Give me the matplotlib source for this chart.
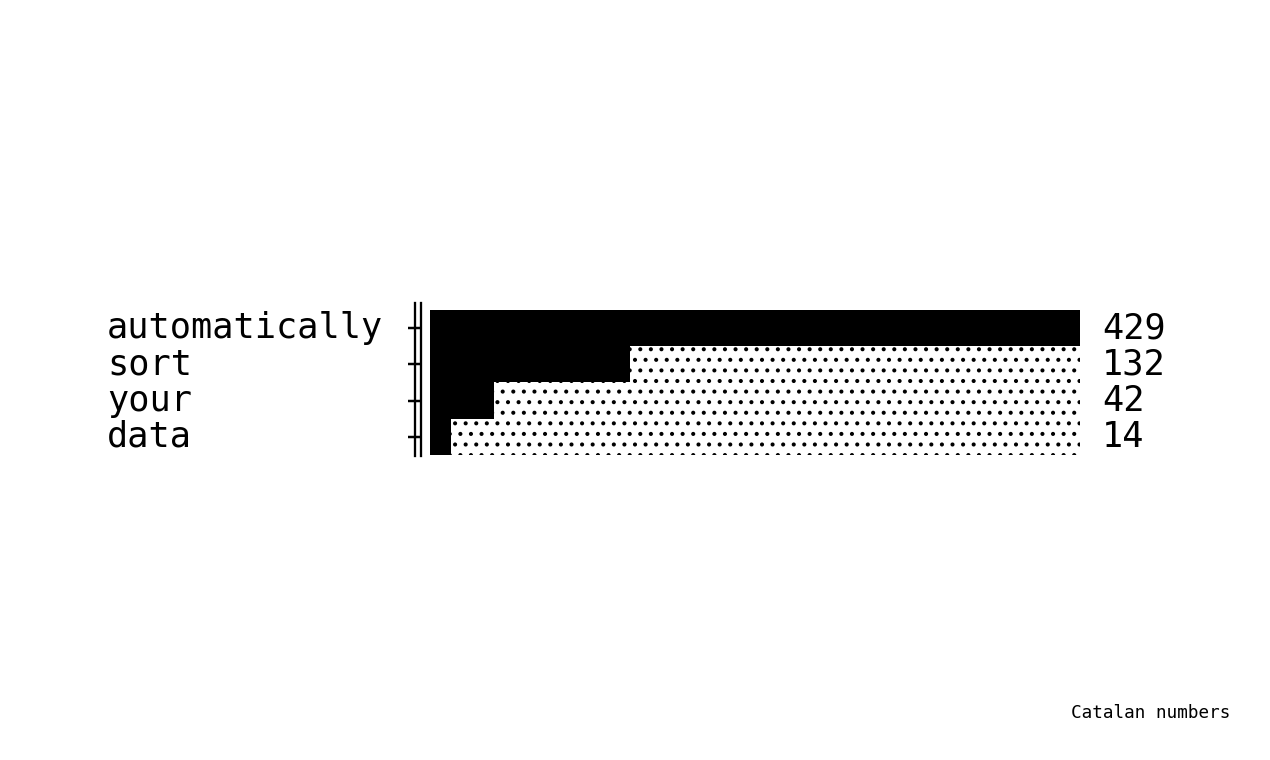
import matplotlib
matplotlib.use("Agg")
import matplotlib.pyplot as plt
from matplotlib import transforms
from matplotlib.spines import Spine

categories = ["automatically", "sort", "your", "data"]
values = [429, 132, 42, 14]
caption = "Catalan numbers"

plt.rcParams["font.family"] = ["DejaVu Sans Mono"]
plt.rcParams["hatch.linewidth"] = 1.1

fig = plt.figure(figsize=(10, 760 / 127), dpi=127)
ax = fig.add_axes([430 / 1270, 0.4, 650 / 1270, 153 / 760])

ypos = list(range(len(categories)))
top = max(values)

# dotted background track, black bar on top
ax.barh(ypos, [top] * len(values), height=1.0, color="white",
        edgecolor="black", linewidth=0, hatch="..")
ax.barh(ypos, values, height=1.0, color="black", linewidth=0)

ax.set_xlim(0, top)
ax.set_ylim(3.53, -0.69)

for s in ["top", "right", "bottom"]:
    ax.spines[s].set_visible(False)
ax.spines["left"].set_position(("outward", 5.0))
ax.spines["left"].set_linewidth(1.3)
extra = Spine.linear_spine(ax, "left")
extra.set_position(("outward", 8.3))
extra.set_linewidth(1.3)
ax.spines["left2"] = extra

ax.set_xticks([])
ax.set_yticks(ypos)
ax.set_yticklabels([])
ax.tick_params(axis="y", length=7.3, width=1.4, color="black")

lab = transforms.blended_transform_factory(fig.transFigure, ax.transData)
for y, name in zip(ypos, categories):
    ax.text(107 / 1270, y, name, transform=lab, ha="left", va="center",
            fontsize=20, color="black")

for y, v in zip(ypos, values):
    ax.annotate(str(v), xy=(1, y), xycoords=("axes fraction", "data"),
                xytext=(12.5, 0), textcoords="offset points",
                ha="left", va="center", fontsize=20, color="black")

fig.text(1230 / 1270, 1 - 713 / 760, caption, ha="right", va="center",
         fontsize=10, color="black")

fig.savefig("out.png", dpi=127)
